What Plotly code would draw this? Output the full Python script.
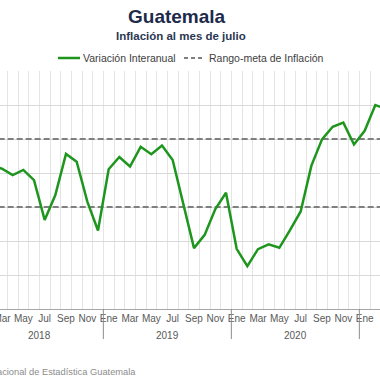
import plotly.graph_objects as go

# ---- data ----
anios = ["2018", "2019", "2020", "2021"]
meses = ["Ene", "Feb", "Mar", "Abr", "May", "Jun", "Jul", "Ago", "Sep", "Oct", "Nov", "Dic"]
etiquetas_mes = ["Ene", "", "Mar", "", "May", "", "Jul", "", "Sep", "", "Nov", ""]
variacion_interanual = [
    4.71, 4.20, 4.13, 3.94, 4.09, 3.79, 2.62, 3.35, 4.56, 4.33, 3.16, 2.31,   # 2018
    4.11, 4.47, 4.19, 4.77, 4.55, 4.81, 4.38, 3.09, 1.79, 2.18, 2.94, 3.42,   # 2019
    1.77, 1.26, 1.76, 1.90, 1.80, 2.32, 2.87, 4.21, 4.99, 5.36, 5.48, 4.84,   # 2020
    5.24, 6.00, 5.88,                                                         # 2021
]
meta_inferior = 3.0
meta_superior = 5.0
nombres = ["Variación Interanual", "Rango-meta de Inflación"]

n = len(variacion_interanual)
x = list(range(n))
periodo = [f"{meses[i % 12]} {anios[i // 12]}" for i in x]

W, H = 380, 380
top, bottom = 71, 309
ph = bottom - top

def py(ypx):
    return (bottom - ypx) / ph

def pxx(xpx):
    return xpx / W

verde = "#1e961e"
gris = "#7f7f7f"
FONT = "Liberation Sans, Arial"

fig = go.Figure()

# target range: two dashed lines
xr = x + [None] + x
yr = [meta_inferior] * n + [None] + [meta_superior] * n
fig.add_trace(go.Scatter(
    x=xr, y=yr, mode="lines", name=nombres[1],
    line=dict(color=gris, width=2, dash="6px,3px"),
    hoverinfo="skip",
))
fig.add_trace(go.Scatter(
    x=x, y=variacion_interanual, mode="lines", name=nombres[0],
    line=dict(color=verde, width=2.5),
    text=periodo, hovertemplate="%{text}: %{y:.2f}%<extra></extra>",
))

tickvals = [i for i in x if etiquetas_mes[i % 12]]
ticktext = [etiquetas_mes[i % 12] for i in tickvals]
bounds = [i - 0.5 for i in x] + [n - 0.5]

xmin, xmax = 1.8125, 37.4375

fig.update_xaxes(
    range=[xmin, xmax], tickmode="array", tickvals=tickvals, ticktext=ticktext,
    showgrid=False, ticks="", zeroline=False, ticklabeloverflow="allow",
    showline=True, linecolor="#a6a6a6", linewidth=1,
    tickfont=dict(family=FONT, size=10, color="#595959"),
    minor=dict(tickmode="array", tickvals=bounds, showgrid=True,
               gridcolor="#e4e4e4", gridwidth=1, ticks=""),
)
fig.update_yaxes(
    range=[0, 7], dtick=1, showticklabels=False, showgrid=True,
    gridcolor="#d9d9d9", gridwidth=1, zeroline=False,
)

shapes = []
annotations = []
for k, a in enumerate(anios):
    start = k * 12
    if start > 0 and start - 0.5 < xmax:
        shapes.append(dict(type="line", xref="x", yref="paper",
                           x0=start - 0.5, x1=start - 0.5, y0=0, y1=py(339),
                           line=dict(color="#8c8c8c", width=1)))
    centro = start + 5.5
    if centro < xmax:
        annotations.append(dict(text=a, x=centro, xref="x", y=py(335), yref="paper",
                                showarrow=False, yanchor="middle",
                                font=dict(family=FONT, size=10, color="#595959")))

# legend (drawn in the header band)
ly = py(58)
shapes.append(dict(type="line", xref="paper", yref="paper", x0=pxx(58), x1=pxx(80),
                   y0=ly, y1=ly, line=dict(color=verde, width=2.5)))
shapes.append(dict(type="line", xref="paper", yref="paper", x0=pxx(184), x1=pxx(205),
                   y0=ly, y1=ly, line=dict(color=gris, width=2, dash="4px,3px")))
annotations += [
    dict(text=nombres[0], x=pxx(81), xref="paper", y=ly, yref="paper", showarrow=False,
         xanchor="left", yanchor="middle", font=dict(family=FONT, size=10.5, color="#404040")),
    dict(text=nombres[1], x=pxx(207), xref="paper", y=ly, yref="paper", showarrow=False,
         xanchor="left", yanchor="middle", font=dict(family=FONT, size=10.5, color="#404040")),
]

annotations += [
    dict(text="<b>Guatemala</b>", x=pxx(177), xref="paper", y=py(16.5), yref="paper",
         showarrow=False, xanchor="center", yanchor="middle",
         font=dict(family=FONT, size=19, color="#1d2b4a")),
    dict(text="<b>Inflación al mes de julio</b>", x=pxx(181), xref="paper", y=py(36), yref="paper",
         showarrow=False, xanchor="center", yanchor="middle",
         font=dict(family=FONT, size=11.5, color="#2a3752")),
    dict(text="Fuente: Instituto Nacional de Estadística Guatemala", x=pxx(138), xref="paper",
         y=py(372), yref="paper", showarrow=False, xanchor="right", yanchor="middle",
         font=dict(family=FONT, size=9.3, color="#8c8c8c")),
]

fig.update_layout(
    width=W, height=H,
    margin=dict(l=0, r=0, t=top, b=H - bottom, autoexpand=False),
    paper_bgcolor="white", plot_bgcolor="white",
    shapes=shapes, annotations=annotations,
    showlegend=False,
)

fig.write_html(
    "out.html",
    config={"displayModeBar": False},
    post_script="document.body.style.margin='0';document.body.style.overflow='hidden';",
)
